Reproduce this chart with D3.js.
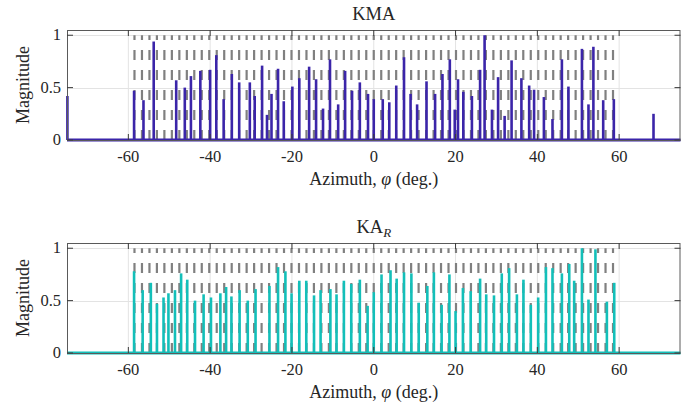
<!DOCTYPE html>
<html>
<head>
<meta charset="utf-8">
<script src="https://cdn.jsdelivr.net/npm/d3@7"></script>
<style>
  body { margin: 0; background: #fff; }
  text { font-family: "Liberation Serif", "DejaVu Serif", serif; fill: #262626; }
</style>
</head>
<body>
<div id="app"></div>
<script>
// --- data ---
const xTicks = [-60, -40, -20, 0, 20, 40, 60];
const yTicks = [0, 0.5, 1];
const yTickLabels = ["0", "0.5", "1"];

// reference (true) directions, shown as grey dashed lines
const trueAngles = [
  -58.50, -56.67, -54.84, -53.02, -51.19, -49.36, -47.53, -45.70, -43.88, -42.05,
  -40.22, -38.39, -36.56, -34.73, -32.91, -31.08, -29.25, -27.42, -25.59, -23.77,
  -21.94, -20.11, -18.28, -16.45, -14.63, -12.80, -10.97, -9.14, -7.31, -5.48,
  -3.66, -1.83, 0, 1.83, 3.66, 5.48, 7.31, 9.14, 10.97, 12.80,
  14.63, 16.45, 18.28, 20.11, 21.94, 23.77, 25.59, 27.42, 29.25, 31.08,
  32.91, 34.73, 36.56, 38.39, 40.22, 42.05, 43.88, 45.70, 47.53, 49.36,
  51.19, 53.02, 54.84, 56.67, 58.50
];

// KMA estimates
const kmaAngles = [
  -74.9, -58.6, -56.3, -53.8, -48.3, -46.2, -44.7, -42.4, -40.0, -38.5,
  -36.7, -34.7, -32.9, -30.3, -29.1, -27.3, -26.1, -25.0, -23.4, -22.0,
  -19.9, -18.2, -15.8, -14.1, -12.4, -10.7, -8.7, -7.0, -5.3, -3.4,
  -1.4, 0.0, 2.2, 3.8, 5.5, 7.4, 9.0, 10.6, 12.9, 15.0,
  16.8, 18.6, 19.8, 20.6, 21.9, 24.0, 26.0, 27.1, 28.9, 30.4,
  32.0, 33.7, 36.1, 38.0, 39.2, 41.6, 43.7, 46.0, 47.6, 50.9,
  52.5, 53.7, 56.1, 58.7, 68.4
];
const kmaValues = [
  0.42, 0.47, 0.38, 0.94, 0.57, 0.50, 0.61, 0.66, 0.67, 0.81,
  0.39, 0.63, 0.55, 0.55, 0.42, 0.71, 0.24, 0.44, 0.68, 0.37,
  0.51, 0.59, 0.70, 0.58, 0.30, 0.77, 0.34, 0.66, 0.47, 0.55,
  0.44, 0.39, 0.39, 0.36, 0.52, 0.79, 0.44, 0.34, 0.56, 0.44,
  0.63, 0.77, 0.29, 0.58, 0.46, 0.42, 0.67, 1.00, 0.29, 0.60,
  0.23, 0.76, 0.59, 0.52, 0.48, 0.41, 0.20, 0.77, 0.51, 0.87,
  0.34, 0.89, 0.38, 0.39, 0.25
];

// KA_R estimates
const karAngles = [
  -58.6, -56.5, -54.5, -53.0, -51.4, -50.2, -48.6, -47.1, -45.6, -43.7,
  -41.6, -39.8, -37.5, -36.1, -34.8, -32.8, -30.8, -28.9, -25.5, -23.4,
  -21.6, -20.1, -18.2, -16.5, -14.6, -13.0, -10.6, -9.1, -7.3, -5.5,
  -3.4, -1.5, 0.0, 1.9, 4.1, 5.6, 7.4, 9.2, 11.0, 13.1,
  14.7, 16.6, 18.5, 20.0, 21.8, 23.7, 26.0, 27.5, 29.4, 31.3,
  33.1, 35.0, 36.6, 38.4, 40.2, 42.1, 43.7, 46.0, 47.8, 49.0,
  50.9, 52.5, 54.2, 57.0, 58.8
];
const karValues = [
  0.78, 0.60, 0.67, 0.47, 0.53, 0.57, 0.60, 0.76, 0.70, 0.50,
  0.56, 0.53, 0.57, 0.63, 0.54, 0.60, 0.50, 0.61, 0.64, 0.82,
  0.78, 0.57, 0.69, 0.69, 0.55, 0.60, 0.61, 0.56, 0.69, 0.66,
  0.70, 0.45, 0.58, 0.75, 0.79, 0.71, 0.77, 0.76, 0.48, 0.64,
  0.77, 0.46, 0.75, 0.40, 0.62, 0.59, 0.71, 0.56, 0.55, 0.76,
  0.81, 0.56, 0.70, 0.46, 0.53, 0.82, 0.81, 0.76, 0.85, 0.69,
  1.00, 0.51, 0.99, 0.49, 0.67
];

const width = 699, height = 402;
const left = 67, right = 680.5;
const xDomain = [-75, 75];
const yDomain = [0, 1.05];

const panels = [
  { title: "KMA", angles: kmaAngles, values: kmaValues, color: "#3b25a9", top: 30, bottom: 140 },
  { title: "KA", sub: "R", angles: karAngles, values: karValues, color: "#13bfb9", top: 243, bottom: 353 }
];

const svg = d3.select("#app")
  .append("svg")
  .attr("width", width)
  .attr("height", height);

const x = d3.scaleLinear().domain(xDomain).range([left, right]);

const drawPanel = (p) => {
  const y = d3.scaleLinear().domain(yDomain).range([p.bottom, p.top]);
  const g = svg.append("g");

  // grid
  g.append("g")
    .selectAll("line")
    .data(xTicks)
    .join("line")
    .attr("x1", (d) => x(d)).attr("x2", (d) => x(d))
    .attr("y1", p.top).attr("y2", p.bottom)
    .attr("stroke", "#e3e3e3");
  g.append("g")
    .selectAll("line")
    .data(yTicks)
    .join("line")
    .attr("x1", left).attr("x2", right)
    .attr("y1", (d) => Math.round(y(d)) + 0.5).attr("y2", (d) => Math.round(y(d)) + 0.5)
    .attr("stroke", "#e3e3e3");

  // true directions, dashed
  g.append("g")
    .selectAll("line")
    .data(trueAngles)
    .join("line")
    .attr("x1", (d) => x(d)).attr("x2", (d) => x(d))
    .attr("y1", y(0)).attr("y2", y(1))
    .attr("stroke", "#808080")
    .attr("stroke-width", 2.2)
    .attr("stroke-dasharray", "10,10");

  // estimates
  g.append("line")
    .attr("x1", left).attr("x2", right)
    .attr("y1", y(0)).attr("y2", y(0))
    .attr("stroke", p.color)
    .attr("stroke-width", 3);

  g.append("g")
    .selectAll("line")
    .data(p.angles.map((a, i) => [a, p.values[i]]))
    .join("line")
    .attr("x1", (d) => x(d[0])).attr("x2", (d) => x(d[0]))
    .attr("y1", y(0)).attr("y2", (d) => y(d[1]))
    .attr("stroke", p.color)
    .attr("stroke-width", 2.6);

  // box
  g.append("rect")
    .attr("x", left + 0.5).attr("y", p.top + 0.5)
    .attr("width", right - left - 1).attr("height", p.bottom - p.top)
    .attr("fill", "none")
    .attr("stroke", "#5a5a5a");

  // ticks inside
  const tickLen = 6;
  g.append("g")
    .selectAll("path")
    .data(xTicks)
    .join("path")
    .attr("d", (d) => `M${x(d)},${p.bottom}v${-tickLen}M${x(d)},${p.top}v${tickLen}`)
    .attr("stroke", "#3a3a3a");
  g.append("g")
    .selectAll("path")
    .data(yTicks)
    .join("path")
    .attr("d", (d) => `M${left},${y(d)}h${tickLen}M${right},${y(d)}h${-tickLen}`)
    .attr("stroke", "#3a3a3a");

  // tick labels
  g.append("g")
    .selectAll("text")
    .data(xTicks)
    .join("text")
    .attr("x", (d) => x(d))
    .attr("y", p.bottom + 22)
    .attr("text-anchor", "middle")
    .attr("font-size", 16.5)
    .text((d) => d);
  g.append("g")
    .selectAll("text")
    .data(yTicks)
    .join("text")
    .attr("x", left - 6)
    .attr("y", (d) => y(d) + 5)
    .attr("text-anchor", "end")
    .attr("font-size", 16.5)
    .text((d, i) => yTickLabels[i]);

  // axis labels
  const xl = g.append("text")
    .attr("x", (left + right) / 2)
    .attr("y", p.bottom + 45)
    .attr("text-anchor", "middle")
    .attr("font-size", 18);
  xl.append("tspan").text("Azimuth, ");
  xl.append("tspan").attr("font-style", "italic").text("φ");
  xl.append("tspan").text(" (deg.)");

  g.append("text")
    .attr("transform", `translate(29,${(p.top + p.bottom) / 2}) rotate(-90)`)
    .attr("text-anchor", "middle")
    .attr("font-size", 18)
    .text("Magnitude");

  // title
  const t = g.append("text")
    .attr("x", (left + right) / 2)
    .attr("y", p.top - 10)
    .attr("text-anchor", "middle")
    .attr("font-size", 18.5);
  t.append("tspan").text(p.title);
  if (p.sub) {
    t.append("tspan")
      .attr("font-style", "italic")
      .attr("font-size", 13)
      .attr("dy", 4)
      .text(p.sub);
  }
};

panels.forEach(drawPanel);
</script>
</body>
</html>
